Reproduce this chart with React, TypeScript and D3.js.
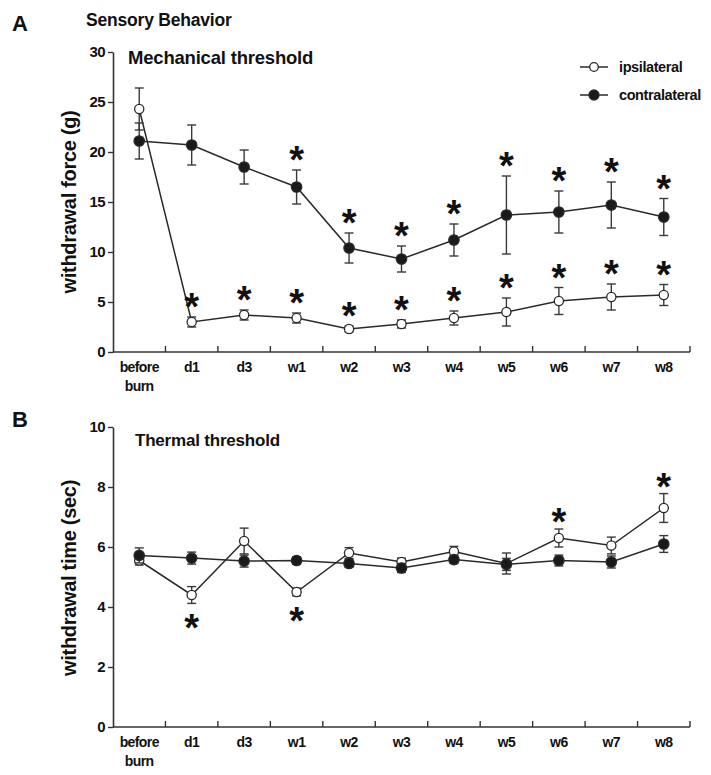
import * as d3 from "d3";
import { useEffect, useRef } from "react";

// categories on the x axis
const categories = ["before burn", "d1", "d3", "w1", "w2", "w3", "w4", "w5", "w6", "w7", "w8"];

// panel A: mechanical threshold (g)
const mechIpsi = [24.3, 3.0, 3.7, 3.4, 2.3, 2.8, 3.4, 4.0, 5.1, 5.5, 5.7];
const mechIpsiErr = [2.1, 0.5, 0.5, 0.5, 0.3, 0.4, 0.7, 1.4, 1.35, 1.3, 1.05];
const mechContra = [21.1, 20.7, 18.5, 16.5, 10.4, 9.3, 11.2, 13.7, 14.0, 14.7, 13.5];
const mechContraErr = [1.8, 2.0, 1.7, 1.7, 1.5, 1.3, 1.6, 3.9, 2.1, 2.3, 1.85];
const mechIpsiSig = ["", "above", "above", "above", "above", "above", "above", "above", "above", "above", "above"];
const mechContraSig = ["", "", "", "above", "above", "above", "above", "above", "above", "above", "above"];
const mechTicks = [0, 5, 10, 15, 20, 25, 30];

// panel B: thermal threshold (sec)
const thermIpsi = [5.55, 4.4, 6.2, 4.5, 5.8, 5.5, 5.85, 5.45, 6.3, 6.05, 7.3];
const thermIpsiErr = [0.15, 0.28, 0.43, 0.13, 0.18, 0.13, 0.17, 0.35, 0.3, 0.28, 0.48];
const thermContra = [5.72, 5.63, 5.53, 5.55, 5.45, 5.3, 5.58, 5.42, 5.55, 5.5, 6.1];
const thermContraErr = [0.25, 0.2, 0.2, 0.12, 0.13, 0.15, 0.13, 0.2, 0.18, 0.2, 0.28];
const thermIpsiSig = ["", "below", "", "below", "", "", "", "", "above", "", "above"];
const thermContraSig = ["", "", "", "", "", "", "", "", "", "", ""];
const thermTicks = [0, 2, 4, 6, 8, 10];

const FONT = "'Liberation Sans', Arial, Helvetica, sans-serif";
const INK = "#2a2a2a";

type Series = { values: number[]; errs: number[]; sig: string[]; open: boolean };

const App = () => {
  const chartRef = useRef<SVGSVGElement | null>(null);

  useEffect(() => {
    const svg = d3.select(chartRef.current);
    svg.selectAll("*").remove();

    const scaleX = d3.scaleBand<string>().domain(categories).range([113, 690]).padding(0);
    const cx = (c: string) => (scaleX(c) as number) + scaleX.bandwidth() / 2;

    const drawPanel = (
      yRange: [number, number],
      yMax: number,
      ticks: number[],
      series: Series[],
      sigOffset: { above: number; below: number }
    ) => {
      const scaleY = d3.scaleLinear().domain([0, yMax]).range(yRange);
      const g = svg.append("g");

      // y axis
      const yAxis = d3.axisLeft(scaleY).tickValues(ticks).tickSize(5).tickSizeOuter(0).tickPadding(3);
      const ya = g.append("g").attr("transform", "translate(113,0)").call(yAxis);
      ya.select(".domain").attr("stroke", "#333").attr("stroke-width", 1.6);
      ya.selectAll(".tick line").attr("stroke", "#333").attr("stroke-width", 1.4);
      ya.selectAll(".tick text")
        .attr("fill", "#111")
        .style("font-family", FONT)
        .style("font-size", "15px")
        .style("font-weight", "bold")
        .style("letter-spacing", "-0.6px");

      // x axis: baseline, inward ticks at band edges
      const y0 = scaleY(0);
      g.append("line")
        .attr("x1", 113).attr("x2", 690)
        .attr("y1", y0).attr("y2", y0)
        .attr("stroke", "#333").attr("stroke-width", 1.6);
      g.selectAll(".xtick")
        .data(categories)
        .enter()
        .append("line")
        .attr("x1", d => (scaleX(d) as number) + scaleX.step())
        .attr("x2", d => (scaleX(d) as number) + scaleX.step())
        .attr("y1", y0)
        .attr("y2", y0 - 6)
        .attr("stroke", "#333").attr("stroke-width", 1.4);
      const labels = g.selectAll(".xlabel")
        .data(categories)
        .enter()
        .append("text")
        .attr("x", d => cx(d))
        .attr("y", y0 + 20)
        .attr("text-anchor", "middle")
        .attr("fill", "#111")
        .style("font-family", FONT)
        .style("font-size", "14px")
        .style("font-weight", "bold")
        .style("letter-spacing", "-0.6px");
      labels.each(function (d) {
        const parts = d.split(" ");
        const t = d3.select(this);
        parts.forEach((p, i) => {
          t.append("tspan").attr("x", cx(d)).attr("dy", i === 0 ? 0 : 19).text(p);
        });
      });

      series.forEach(s => {
        const pts = categories.map((c, i) => ({ c, v: s.values[i], e: s.errs[i], sig: s.sig[i] }));
        const line = d3.line<typeof pts[0]>().x(d => cx(d.c)).y(d => scaleY(d.v));
        g.append("path")
          .attr("d", line(pts) as string)
          .attr("fill", "none")
          .attr("stroke", INK)
          .attr("stroke-width", 1.5);

        // error bars
        const eb = g.append("g").attr("stroke", "#3a3a3a").attr("stroke-width", 1.4);
        pts.forEach(d => {
          const x = cx(d.c);
          const yt = scaleY(d.v + d.e);
          const yb = scaleY(d.v - d.e);
          eb.append("line").attr("x1", x).attr("x2", x).attr("y1", yt).attr("y2", yb);
          eb.append("line").attr("x1", x - 4.5).attr("x2", x + 4.5).attr("y1", yt).attr("y2", yt);
          eb.append("line").attr("x1", x - 4.5).attr("x2", x + 4.5).attr("y1", yb).attr("y2", yb);
        });

        g.selectAll(null)
          .data(pts)
          .enter()
          .append("circle")
          .attr("cx", d => cx(d.c))
          .attr("cy", d => scaleY(d.v))
          .attr("r", s.open ? 4.6 : 5.2)
          .attr("fill", s.open ? "#fff" : "#1a1a1a")
          .attr("stroke", INK)
          .attr("stroke-width", 1.3);

        // significance asterisks
        g.selectAll(null)
          .data(pts.filter(d => d.sig !== ""))
          .enter()
          .append("text")
          .attr("x", d => cx(d.c))
          .attr("y", d =>
            d.sig === "above"
              ? scaleY(d.v + d.e) - sigOffset.above + 21
              : scaleY(d.v - d.e) + sigOffset.below + 21
          )
          .attr("text-anchor", "middle")
          .attr("fill", "#111")
          .style("font-family", FONT)
          .style("font-size", "38px")
          .style("font-weight", "bold")
          .text("*");
      });
    };

    drawPanel([352, 52], 30, mechTicks, [
      { values: mechIpsi, errs: mechIpsiErr, sig: mechIpsiSig, open: true },
      { values: mechContra, errs: mechContraErr, sig: mechContraSig, open: false },
    ], { above: 18, below: 17 });

    drawPanel([727, 427], 10, thermTicks, [
      { values: thermIpsi, errs: thermIpsiErr, sig: thermIpsiSig, open: true },
      { values: thermContra, errs: thermContraErr, sig: thermContraSig, open: false },
    ], { above: 15, below: 17 });

    // texts
    const txt = (x: number, y: number, s: string, size: number, extra?: (t: any) => void) => {
      const t = svg.append("text")
        .attr("x", x).attr("y", y)
        .attr("fill", "#111")
        .style("font-family", FONT)
        .style("font-size", `${size}px`)
        .style("font-weight", "bold")
        .text(s);
      if (extra) extra(t);
      return t;
    };
    txt(12, 31, "A", 22);
    txt(86, 26, "Sensory Behavior", 17.5, t => t.style("letter-spacing", "-0.2px"));
    txt(128, 64, "Mechanical threshold", 18.5, t => t.style("letter-spacing", "-0.2px"));
    txt(12, 427, "B", 22);
    txt(135, 446, "Thermal threshold", 17, t => t.style("letter-spacing", "-0.2px"));
    txt(0, 0, "withdrawal force (g)", 20, t =>
      t.attr("transform", "translate(76,202) rotate(-90)").attr("text-anchor", "middle").style("letter-spacing", "-0.3px"));
    txt(0, 0, "withdrawal time (sec)", 20, t =>
      t.attr("transform", "translate(76,578) rotate(-90)").attr("text-anchor", "middle").style("letter-spacing", "-0.3px"));

    // legend
    const legend = [
      { label: "ipsilateral", open: true, y: 67 },
      { label: "contralateral", open: false, y: 95 },
    ];
    legend.forEach(l => {
      svg.append("line").attr("x1", 580).attr("x2", 608).attr("y1", l.y).attr("y2", l.y)
        .attr("stroke", INK).attr("stroke-width", 1.5);
      svg.append("circle").attr("cx", 594).attr("cy", l.y).attr("r", l.open ? 4.3 : 5)
        .attr("fill", l.open ? "#fff" : "#1a1a1a").attr("stroke", INK).attr("stroke-width", 1.3);
      txt(619, l.y + 5, l.label, 14.5, t => t.style("letter-spacing", "-0.4px"));
    });
  }, []);

  return (
    <svg
      ref={chartRef}
      width={711}
      height={775}
      style={{ position: "absolute", left: 0, top: 0, background: "#fff" }}
    ></svg>
  );
};

export default App;
